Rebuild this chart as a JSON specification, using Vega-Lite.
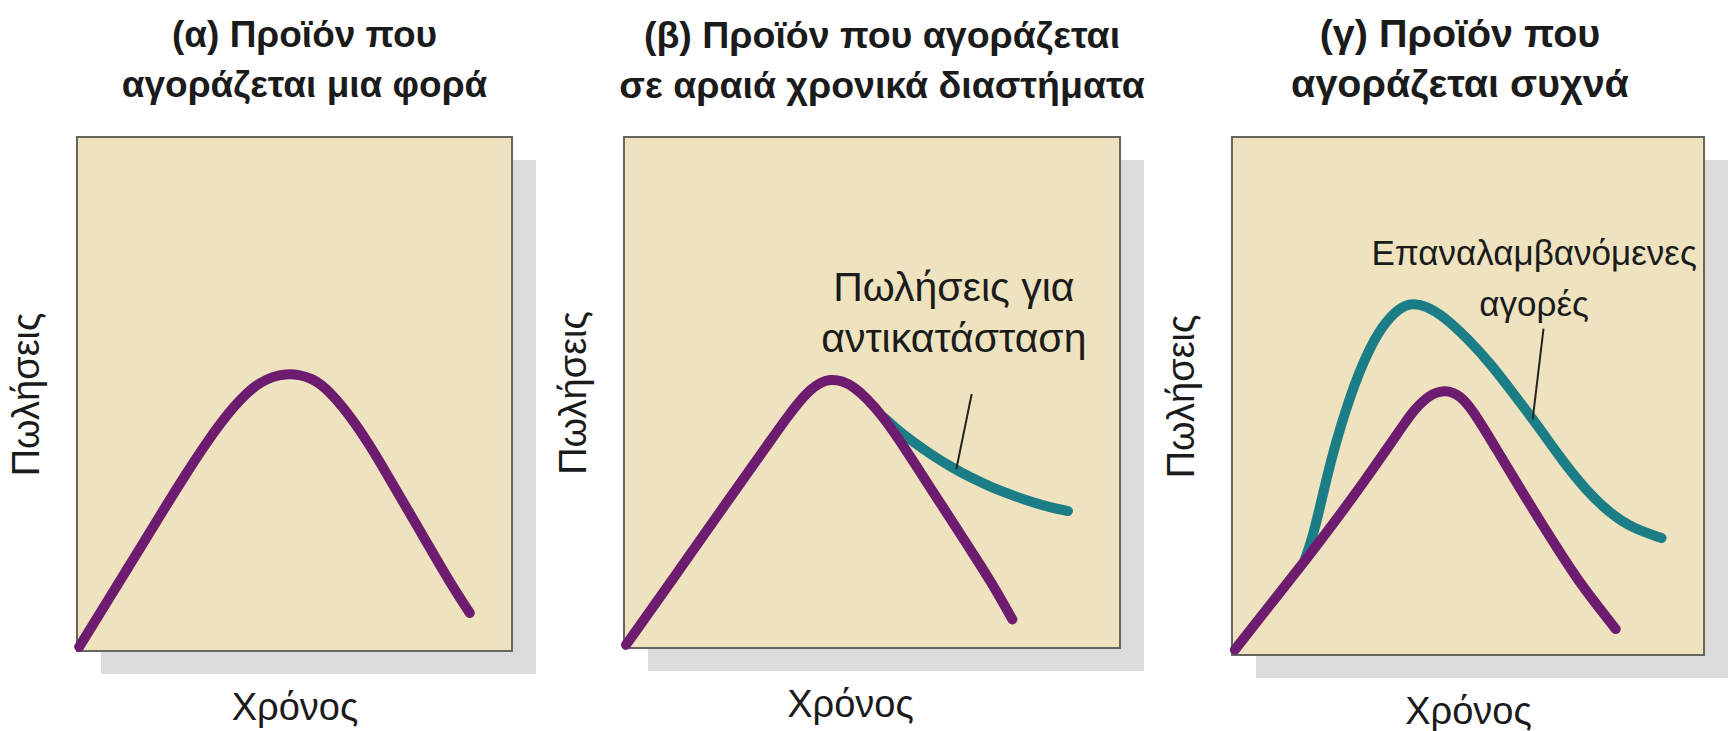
{
  "$schema": "https://vega.github.io/schema/vega-lite/v6.json",
  "background": "white",
  "padding": {"left": 8, "top": 14, "right": 0, "bottom": 0},
  "spacing": 112,
  "bounds": "flush",
  "datasets": {
    "curves": [
      {"panel": "a", "series": "base", "time": 0.5, "sales": 0.8},
      {"panel": "a", "series": "base", "time": 5, "sales": 7},
      {"panel": "a", "series": "base", "time": 10, "sales": 13.8},
      {"panel": "a", "series": "base", "time": 15, "sales": 20.7},
      {"panel": "a", "series": "base", "time": 20, "sales": 27.6},
      {"panel": "a", "series": "base", "time": 25, "sales": 34.4},
      {"panel": "a", "series": "base", "time": 30, "sales": 40.8},
      {"panel": "a", "series": "base", "time": 33, "sales": 44.3},
      {"panel": "a", "series": "base", "time": 36, "sales": 47.5},
      {"panel": "a", "series": "base", "time": 39, "sales": 50.2},
      {"panel": "a", "series": "base", "time": 42, "sales": 52.2},
      {"panel": "a", "series": "base", "time": 45, "sales": 53.4},
      {"panel": "a", "series": "base", "time": 48, "sales": 53.9},
      {"panel": "a", "series": "base", "time": 51, "sales": 53.8},
      {"panel": "a", "series": "base", "time": 54, "sales": 53},
      {"panel": "a", "series": "base", "time": 56, "sales": 51.9},
      {"panel": "a", "series": "base", "time": 58, "sales": 50.4},
      {"panel": "a", "series": "base", "time": 61, "sales": 47.6},
      {"panel": "a", "series": "base", "time": 64, "sales": 44.2},
      {"panel": "a", "series": "base", "time": 67, "sales": 40.4},
      {"panel": "a", "series": "base", "time": 70, "sales": 36.2},
      {"panel": "a", "series": "base", "time": 74, "sales": 30.4},
      {"panel": "a", "series": "base", "time": 78, "sales": 24.6},
      {"panel": "a", "series": "base", "time": 82, "sales": 18.8},
      {"panel": "a", "series": "base", "time": 86, "sales": 13},
      {"panel": "a", "series": "base", "time": 90.3, "sales": 7.4},

      {"panel": "b", "series": "base", "time": 0.4, "sales": 0.6},
      {"panel": "b", "series": "base", "time": 5, "sales": 6.9},
      {"panel": "b", "series": "base", "time": 10, "sales": 13.7},
      {"panel": "b", "series": "base", "time": 15, "sales": 20.6},
      {"panel": "b", "series": "base", "time": 20, "sales": 27.5},
      {"panel": "b", "series": "base", "time": 25, "sales": 34.4},
      {"panel": "b", "series": "base", "time": 30, "sales": 41.2},
      {"panel": "b", "series": "base", "time": 33, "sales": 45.3},
      {"panel": "b", "series": "base", "time": 35.5, "sales": 48.4},
      {"panel": "b", "series": "base", "time": 37.5, "sales": 50.5},
      {"panel": "b", "series": "base", "time": 39.5, "sales": 51.9},
      {"panel": "b", "series": "base", "time": 41.5, "sales": 52.6},
      {"panel": "b", "series": "base", "time": 44, "sales": 52.3},
      {"panel": "b", "series": "base", "time": 46.5, "sales": 51},
      {"panel": "b", "series": "base", "time": 49, "sales": 48.8},
      {"panel": "b", "series": "base", "time": 52, "sales": 45.5},
      {"panel": "b", "series": "base", "time": 55, "sales": 41.5},
      {"panel": "b", "series": "base", "time": 60, "sales": 34},
      {"panel": "b", "series": "base", "time": 65, "sales": 26.5},
      {"panel": "b", "series": "base", "time": 70, "sales": 19},
      {"panel": "b", "series": "base", "time": 74, "sales": 13},
      {"panel": "b", "series": "base", "time": 78.3, "sales": 5.6},
      {"panel": "b", "series": "extra", "time": 52.5, "sales": 45},
      {"panel": "b", "series": "extra", "time": 55.5, "sales": 42.4},
      {"panel": "b", "series": "extra", "time": 58.5, "sales": 40.2},
      {"panel": "b", "series": "extra", "time": 62, "sales": 37.8},
      {"panel": "b", "series": "extra", "time": 66, "sales": 35.4},
      {"panel": "b", "series": "extra", "time": 70, "sales": 33.3},
      {"panel": "b", "series": "extra", "time": 74, "sales": 31.5},
      {"panel": "b", "series": "extra", "time": 78, "sales": 30},
      {"panel": "b", "series": "extra", "time": 82, "sales": 28.6},
      {"panel": "b", "series": "extra", "time": 86, "sales": 27.5},
      {"panel": "b", "series": "extra", "time": 89.5, "sales": 26.8},

      {"panel": "c", "series": "base", "time": 0.6, "sales": 1},
      {"panel": "c", "series": "base", "time": 8, "sales": 9.6},
      {"panel": "c", "series": "base", "time": 16, "sales": 18.8},
      {"panel": "c", "series": "base", "time": 22, "sales": 26},
      {"panel": "c", "series": "base", "time": 28, "sales": 33.5},
      {"panel": "c", "series": "base", "time": 33, "sales": 40},
      {"panel": "c", "series": "base", "time": 36, "sales": 44},
      {"panel": "c", "series": "base", "time": 38.5, "sales": 47.2},
      {"panel": "c", "series": "base", "time": 41, "sales": 49.6},
      {"panel": "c", "series": "base", "time": 44, "sales": 51.1},
      {"panel": "c", "series": "base", "time": 47, "sales": 50.8},
      {"panel": "c", "series": "base", "time": 49.5, "sales": 49},
      {"panel": "c", "series": "base", "time": 52, "sales": 45.8},
      {"panel": "c", "series": "base", "time": 56, "sales": 39.8},
      {"panel": "c", "series": "base", "time": 61, "sales": 32.2},
      {"panel": "c", "series": "base", "time": 67, "sales": 23.3},
      {"panel": "c", "series": "base", "time": 73, "sales": 14.8},
      {"panel": "c", "series": "base", "time": 77, "sales": 10},
      {"panel": "c", "series": "base", "time": 81.3, "sales": 5},
      {"panel": "c", "series": "extra", "time": 15.5, "sales": 18.6},
      {"panel": "c", "series": "extra", "time": 17, "sales": 22.5},
      {"panel": "c", "series": "extra", "time": 18.5, "sales": 28},
      {"panel": "c", "series": "extra", "time": 20, "sales": 34},
      {"panel": "c", "series": "extra", "time": 22, "sales": 41},
      {"panel": "c", "series": "extra", "time": 24.5, "sales": 48.5},
      {"panel": "c", "series": "extra", "time": 27.5, "sales": 56},
      {"panel": "c", "series": "extra", "time": 31, "sales": 62.5},
      {"panel": "c", "series": "extra", "time": 34.5, "sales": 66.3},
      {"panel": "c", "series": "extra", "time": 37.5, "sales": 68},
      {"panel": "c", "series": "extra", "time": 41, "sales": 67.5},
      {"panel": "c", "series": "extra", "time": 45, "sales": 65.3},
      {"panel": "c", "series": "extra", "time": 50, "sales": 61},
      {"panel": "c", "series": "extra", "time": 55, "sales": 56},
      {"panel": "c", "series": "extra", "time": 60, "sales": 50},
      {"panel": "c", "series": "extra", "time": 65, "sales": 44},
      {"panel": "c", "series": "extra", "time": 70, "sales": 37.5},
      {"panel": "c", "series": "extra", "time": 75, "sales": 31.8},
      {"panel": "c", "series": "extra", "time": 80, "sales": 27.4},
      {"panel": "c", "series": "extra", "time": 85, "sales": 24.4},
      {"panel": "c", "series": "extra", "time": 91, "sales": 22.6}
    ],
    "leaders": [
      {"panel": "b", "time": 70.1, "sales": 49.7, "time2": 67, "sales2": 35},
      {"panel": "c", "time": 66, "sales": 63, "time2": 63.7, "sales2": 45.5}
    ],
    "labels": [
      {"panel": "b", "time": 66.5, "sales": 68, "text": "Πωλήσεις για\nαντικατάσταση"},
      {"panel": "c", "time": 64, "sales": 75.3, "text": "Επαναλαμβανόμενες\nαγορές"}
    ]
  },
  "config": {
    "view": {"stroke": null},
    "font": "Liberation Sans",
    "title": {"font": "Liberation Sans", "fontSize": 37, "fontWeight": "bold", "color": "#1b1b1b", "lineHeight": 50, "offset": 31, "anchor": "middle", "frame": "group"},
    "axis": {"domain": false, "ticks": false, "labels": false, "grid": false, "titleFont": "Liberation Sans", "titleFontSize": 38, "titleFontWeight": "normal", "titleColor": "#1b1b1b"},
    "axisX": {"titlePadding": 38},
    "axisY": {"titlePadding": 31}
  },
  "hconcat": [
    {
      "width": 435, "height": 514,
      "title": {"text": ["(α) Προϊόν που", "αγοράζεται μια φορά"], "fontSize": 37, "dx": 10},
      "layer": [
        {"data": {"values": [{}]},
         "mark": {"type": "rect", "fill": "#DCDCDD", "xOffset": 24, "x2Offset": 24, "yOffset": 23, "y2Offset": 23},
         "encoding": {
           "x": {"datum": 0, "type": "quantitative", "scale": {"domain": [0, 100], "nice": false, "zero": false}, "axis": {"title": "Χρόνος"}},
           "x2": {"datum": 100},
           "y": {"datum": 0, "type": "quantitative", "scale": {"domain": [0, 100], "nice": false, "zero": false}, "axis": {"title": "Πωλήσεις"}},
           "y2": {"datum": 100}}},
        {"data": {"values": [{}]},
         "mark": {"type": "rect", "fill": "#EEE3BE", "stroke": "#66655E", "strokeWidth": 2},
         "encoding": {"x": {"datum": 0, "type": "quantitative"}, "x2": {"datum": 100}, "y": {"datum": 0, "type": "quantitative"}, "y2": {"datum": 100}}},
        {"data": {"name": "curves"},
         "transform": [{"filter": "datum.panel === 'a' && datum.series === 'base'"}],
         "mark": {"type": "line", "interpolate": "basis", "strokeWidth": 10, "strokeCap": "round", "strokeJoin": "round", "color": "#6D1C70"},
         "encoding": {"x": {"field": "time", "type": "quantitative"}, "y": {"field": "sales", "type": "quantitative"}}}
      ]
    },
    {
      "width": 496, "height": 511,
      "title": {"text": ["(β) Προϊόν που αγοράζεται", "σε αραιά χρονικά διαστήματα"], "fontSize": 37.5, "dx": 10},
      "layer": [
        {"data": {"values": [{}]},
         "mark": {"type": "rect", "fill": "#DCDCDD", "xOffset": 24, "x2Offset": 24, "yOffset": 23, "y2Offset": 23},
         "encoding": {
           "x": {"datum": 0, "type": "quantitative", "scale": {"domain": [0, 100], "nice": false, "zero": false}, "axis": {"title": "Χρόνος", "titleX": 226}},
           "x2": {"datum": 100},
           "y": {"datum": 0, "type": "quantitative", "scale": {"domain": [0, 100], "nice": false, "zero": false}, "axis": {"title": "Πωλήσεις"}},
           "y2": {"datum": 100}}},
        {"data": {"values": [{}]},
         "mark": {"type": "rect", "fill": "#EEE3BE", "stroke": "#66655E", "strokeWidth": 2},
         "encoding": {"x": {"datum": 0, "type": "quantitative"}, "x2": {"datum": 100}, "y": {"datum": 0, "type": "quantitative"}, "y2": {"datum": 100}}},
        {"data": {"name": "curves"},
         "transform": [{"filter": "datum.panel === 'b' && datum.series === 'extra'"}],
         "mark": {"type": "line", "interpolate": "basis", "strokeWidth": 10, "strokeCap": "round", "strokeJoin": "round", "color": "#1B7D86"},
         "encoding": {"x": {"field": "time", "type": "quantitative"}, "y": {"field": "sales", "type": "quantitative"}}},
        {"data": {"name": "curves"},
         "transform": [{"filter": "datum.panel === 'b' && datum.series === 'base'"}],
         "mark": {"type": "line", "interpolate": "basis", "strokeWidth": 10, "strokeCap": "round", "strokeJoin": "round", "color": "#6D1C70"},
         "encoding": {"x": {"field": "time", "type": "quantitative"}, "y": {"field": "sales", "type": "quantitative"}}},
        {"data": {"name": "leaders"},
         "transform": [{"filter": "datum.panel === 'b'"}],
         "mark": {"type": "rule", "strokeWidth": 2, "color": "#222222"},
         "encoding": {"x": {"field": "time", "type": "quantitative"}, "y": {"field": "sales", "type": "quantitative"}, "x2": {"field": "time2"}, "y2": {"field": "sales2"}}},
        {"data": {"name": "labels"},
         "transform": [{"filter": "datum.panel === 'b'"}],
         "mark": {"type": "text", "lineBreak": "\n", "align": "center", "baseline": "alphabetic", "fontSize": 41, "lineHeight": 51, "font": "Liberation Sans", "color": "#1b1b1b"},
         "encoding": {"x": {"field": "time", "type": "quantitative"}, "y": {"field": "sales", "type": "quantitative"}, "text": {"field": "text"}}}
      ]
    },
    {
      "width": 472, "height": 518,
      "title": {"text": ["(γ) Προϊόν που", "αγοράζεται συχνά"], "fontSize": 39.5, "dx": -8},
      "layer": [
        {"data": {"values": [{}]},
         "mark": {"type": "rect", "fill": "#DCDCDD", "xOffset": 24, "x2Offset": 24, "yOffset": 23, "y2Offset": 23},
         "encoding": {
           "x": {"datum": 0, "type": "quantitative", "scale": {"domain": [0, 100], "nice": false, "zero": false}, "axis": {"title": "Χρόνος"}},
           "x2": {"datum": 100},
           "y": {"datum": 0, "type": "quantitative", "scale": {"domain": [0, 100], "nice": false, "zero": false}, "axis": {"title": "Πωλήσεις"}},
           "y2": {"datum": 100}}},
        {"data": {"values": [{}]},
         "mark": {"type": "rect", "fill": "#EEE3BE", "stroke": "#66655E", "strokeWidth": 2},
         "encoding": {"x": {"datum": 0, "type": "quantitative"}, "x2": {"datum": 100}, "y": {"datum": 0, "type": "quantitative"}, "y2": {"datum": 100}}},
        {"data": {"name": "curves"},
         "transform": [{"filter": "datum.panel === 'c' && datum.series === 'extra'"}],
         "mark": {"type": "line", "interpolate": "basis", "strokeWidth": 10, "strokeCap": "round", "strokeJoin": "round", "color": "#1B7D86"},
         "encoding": {"x": {"field": "time", "type": "quantitative"}, "y": {"field": "sales", "type": "quantitative"}}},
        {"data": {"name": "curves"},
         "transform": [{"filter": "datum.panel === 'c' && datum.series === 'base'"}],
         "mark": {"type": "line", "interpolate": "basis", "strokeWidth": 10, "strokeCap": "round", "strokeJoin": "round", "color": "#6D1C70"},
         "encoding": {"x": {"field": "time", "type": "quantitative"}, "y": {"field": "sales", "type": "quantitative"}}},
        {"data": {"name": "leaders"},
         "transform": [{"filter": "datum.panel === 'c'"}],
         "mark": {"type": "rule", "strokeWidth": 2, "color": "#222222"},
         "encoding": {"x": {"field": "time", "type": "quantitative"}, "y": {"field": "sales", "type": "quantitative"}, "x2": {"field": "time2"}, "y2": {"field": "sales2"}}},
        {"data": {"name": "labels"},
         "transform": [{"filter": "datum.panel === 'c'"}],
         "mark": {"type": "text", "lineBreak": "\n", "align": "center", "baseline": "alphabetic", "fontSize": 35, "lineHeight": 51, "font": "Liberation Sans", "color": "#1b1b1b"},
         "encoding": {"x": {"field": "time", "type": "quantitative"}, "y": {"field": "sales", "type": "quantitative"}, "text": {"field": "text"}}}
      ]
    }
  ]
}
